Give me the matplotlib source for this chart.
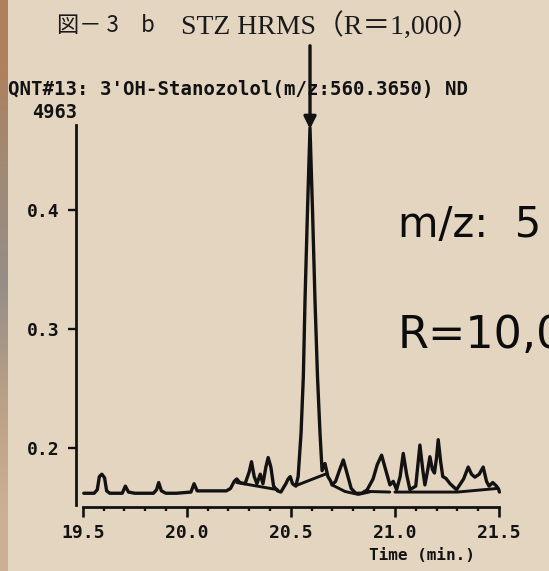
import numpy as np
import matplotlib
matplotlib.use("Agg")
import matplotlib.pyplot as plt
from matplotlib.ticker import MultipleLocator, FixedLocator

# --- Data ---
trace_time = [
    19.505, 19.555, 19.570, 19.580, 19.592, 19.605, 19.615, 19.630,
    19.690, 19.705, 19.720, 19.750, 19.840, 19.855, 19.865, 19.878,
    19.900, 19.950, 20.020, 20.035, 20.050, 20.100, 20.190, 20.210,
    20.228, 20.240, 20.255, 20.280, 20.300, 20.311, 20.324, 20.337,
    20.353, 20.366, 20.380, 20.391, 20.404, 20.417, 20.436, 20.452,
    20.476, 20.487, 20.497, 20.508, 20.524, 20.535, 20.549, 20.560,
    20.568, 20.580, 20.592, 20.604, 20.616, 20.628, 20.640, 20.650,
    20.664, 20.678, 20.690, 20.698, 20.715, 20.735, 20.752, 20.768,
    20.790, 20.812, 20.840, 20.866, 20.895, 20.915, 20.936, 20.955,
    20.976, 20.992, 21.008, 21.025, 21.040, 21.056, 21.072, 21.100,
    21.120, 21.135, 21.144, 21.158, 21.168, 21.180, 21.190, 21.200,
    21.208, 21.220, 21.230, 21.245, 21.265, 21.296, 21.330, 21.352,
    21.368, 21.384, 21.405, 21.424, 21.440, 21.452, 21.470, 21.488,
    21.498, 21.502,
]
trace_signal = [
    0.162, 0.162, 0.165, 0.176, 0.178, 0.175, 0.164, 0.162,
    0.162, 0.168, 0.163, 0.162, 0.162, 0.165, 0.171, 0.164,
    0.162, 0.162, 0.163, 0.170, 0.164, 0.164, 0.164, 0.166,
    0.172, 0.174, 0.171, 0.170, 0.180, 0.1885, 0.176, 0.170,
    0.178, 0.170, 0.184, 0.192, 0.184, 0.168, 0.164, 0.163,
    0.170, 0.174, 0.176, 0.170, 0.168, 0.176, 0.2126, 0.260,
    0.324, 0.400, 0.469, 0.400, 0.324, 0.260, 0.2126, 0.181,
    0.187, 0.176, 0.1726, 0.169, 0.172, 0.182, 0.190, 0.180,
    0.166, 0.162, 0.162, 0.1647, 0.174, 0.186, 0.194, 0.182,
    0.169, 0.172, 0.165, 0.176, 0.1955, 0.178, 0.165, 0.168,
    0.2025, 0.180, 0.169, 0.182, 0.1927, 0.182, 0.179, 0.192,
    0.207, 0.188, 0.176, 0.1745, 0.170, 0.165, 0.174, 0.184,
    0.178, 0.1755, 0.178, 0.184, 0.172, 0.168, 0.171, 0.168,
    0.1655, 0.163,
]
# integration baselines drawn by the data system (NaN separates segments)
base_time = [20.240, 20.436, np.nan, 20.524, 20.668, np.nan,
             20.698, 20.760, 20.824, 20.881, np.nan, 20.874, 20.975, np.nan,
             21.000, 21.300, 21.490]
base_signal = [0.171, 0.165, np.nan, 0.1684, 0.1782, np.nan,
               0.169, 0.1635, 0.161, 0.1632, np.nan, 0.1635, 0.163, np.nan,
               0.163, 0.163, 0.166]

x_ticks = [19.5, 20.0, 20.5, 21.0, 21.5]
x_labels = ["19.5", "20.0", "20.5", "21.0", "21.5"]
y_ticks = [0.2, 0.3, 0.4]
y_labels = ["0.2", "0.3", "0.4"]

title_fig = "図－ 3　b"
title_main = "STZ HRMS（R＝1,000）"
header = "QNT#13: 3'OH-Stanozolol(m/z:560.3650) ND"
scale_label = "4963"
# slide text that runs off the right edge of the photo
side_mz = "m/z:  5"
side_res = "R=10,0"

W, H = 549, 571
PAPER = "#e4d5c1"
INK = "#121212"
MONO = dict(family="DejaVu Sans Mono", weight="bold")


def fx(px):
    return px / W


def fy(py):
    return 1 - py / H


fig = plt.figure(figsize=(W / 100, H / 100), dpi=100, facecolor=PAPER)

# dark photo edge on the left
edge = fig.add_axes([0, 0, fx(7), 1])
edge_cols = np.array([[[176, 128, 92]], [[160, 138, 118]], [[150, 142, 134]],
                      [[186, 160, 134]], [[205, 176, 148]]]) / 255
edge.imshow(edge_cols, aspect="auto", interpolation="bilinear")
edge.axis("off")

ax = fig.add_axes([fx(82.7), fy(506.7), fx(499) - fx(82.7), fy(125) - fy(506.7)])
ax.set_facecolor("none")
ax.set_xlim(19.5, 21.5)
ax.set_ylim(0.1507, 0.4714)

ax.plot(trace_time, trace_signal, color=INK, lw=2.4, solid_joinstyle="round",
        solid_capstyle="round", clip_on=False)
ax.plot(base_time, base_signal, color=INK, lw=2.1, solid_capstyle="round",
        clip_on=False)

for s in ("top", "right"):
    ax.spines[s].set_visible(False)
ax.spines["left"].set_position(("outward", 4.5))
ax.spines["left"].set_bounds(0.1525, 0.4714)
ax.spines["left"].set_linewidth(2.0)
ax.spines["bottom"].set_linewidth(2.0)
for s in ("left", "bottom"):
    ax.spines[s].set_color(INK)

ax.xaxis.set_major_locator(FixedLocator(x_ticks))
ax.xaxis.set_minor_locator(MultipleLocator(0.1))
ax.set_xticklabels(x_labels, fontsize=13, **MONO)
ax.yaxis.set_major_locator(FixedLocator(y_ticks))
ax.set_yticklabels(y_labels, fontsize=13, **MONO)
ax.tick_params(axis="x", which="major", length=7, width=1.9, pad=5.5, colors=INK)
ax.tick_params(axis="x", which="minor", length=3, width=1.7, colors=INK)
ax.tick_params(axis="y", which="major", length=6, width=1.7, pad=6, colors=INK)

# arrow marking the expected retention time
i_top = int(np.argmax(trace_signal))
ax.annotate("", xy=(trace_time[i_top], trace_signal[i_top] - 0.001),
            xytext=(trace_time[i_top], 0.538),
            arrowprops=dict(arrowstyle="-|>", lw=2.4, color=INK,
                            mutation_scale=18, shrinkA=0, shrinkB=0),
            annotation_clip=False)

# texts
fig.text(fx(57), fy(26), title_fig, fontsize=16, family="Noto Sans CJK JP",
         color="#1a1a1a", va="center", ha="left")
fig.text(fx(181), fy(26), title_main, fontsize=20,
         family=["Liberation Serif", "Noto Sans CJK JP"], color="#1a1a1a",
         va="center", ha="left")
fig.text(fx(8), fy(89), header, fontsize=13.7, color=INK, va="center",
         ha="left", **MONO)
fig.text(fx(32), fy(112), scale_label, fontsize=13.4, color=INK,
         va="center", ha="left", **MONO)
fig.text(fx(421.5), fy(555), "Time (min.)", fontsize=11.5, color=INK,
         va="center", ha="center", **MONO)

fig.text(fx(398), fy(236.7), side_mz, fontsize=30, family="DejaVu Sans",
         color="#0c0c0c", va="baseline", ha="left")
fig.text(fx(398), fy(348), side_res, fontsize=32, family="DejaVu Sans",
         color="#0c0c0c", va="baseline", ha="left")

fig.savefig("out.png", dpi=100, facecolor=PAPER)
